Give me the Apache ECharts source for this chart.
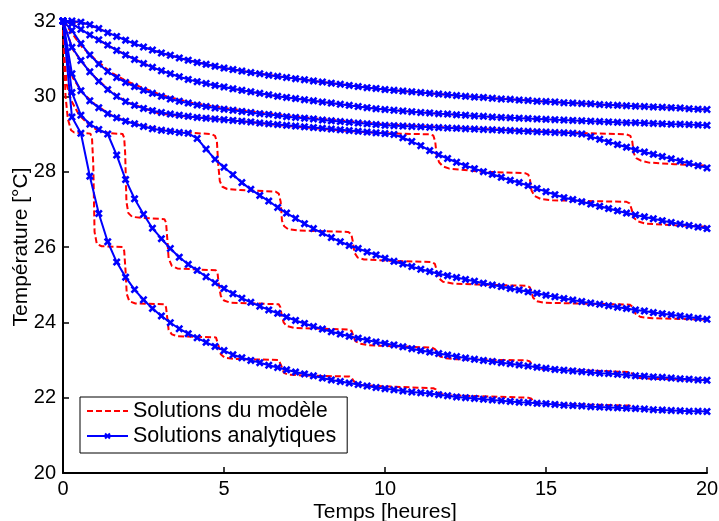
<!DOCTYPE html>
<html>
<head>
<meta charset="utf-8">
<script src="https://cdn.jsdelivr.net/npm/echarts@6/dist/echarts.min.js"></script>
<style>html,body{margin:0;padding:0;background:#fff}#c{width:719px;height:521px}</style>
</head>
<body>
<div id="c"></div>
<script>
// Time grid (hours) of the analytical solutions
var times = [0,0.278,0.556,0.833,1.111,1.389,1.667,1.944,2.222,2.5,2.778,3.056,3.333,3.611,3.889,4.167,4.444,4.722,5,5.278,5.556,5.833,6.111,6.389,6.667,6.944,7.222,7.5,7.778,8.056,8.333,8.611,8.889,9.167,9.444,9.722,10,10.278,10.556,10.833,11.111,11.389,11.667,11.944,12.222,12.5,12.778,13.056,13.333,13.611,13.889,14.167,14.444,14.722,15,15.278,15.556,15.833,16.111,16.389,16.667,16.944,17.222,17.5,17.778,18.056,18.333,18.611,18.889,19.167,19.444,19.722,20];

// Analytical solutions (°C)
var analytic1 = [32,32.0,31.97,31.9,31.8,31.69,31.59,31.49,31.4,31.31,31.23,31.15,31.09,31.02,30.96,30.9,30.85,30.8,30.75,30.71,30.67,30.63,30.6,30.56,30.53,30.5,30.47,30.44,30.41,30.38,30.35,30.32,30.29,30.26,30.23,30.21,30.18,30.16,30.14,30.12,30.1,30.08,30.06,30.04,30.02,30.0,29.98,29.97,29.95,29.93,29.92,29.9,29.89,29.87,29.86,29.85,29.83,29.82,29.81,29.8,29.78,29.77,29.76,29.75,29.74,29.73,29.72,29.71,29.7,29.69,29.67,29.66,29.65];
var analytic2 = [32,31.93,31.78,31.63,31.5,31.36,31.22,31.1,30.98,30.87,30.77,30.68,30.6,30.52,30.45,30.39,30.34,30.29,30.25,30.2,30.16,30.12,30.08,30.04,30.0,29.97,29.94,29.91,29.88,29.85,29.82,29.79,29.76,29.73,29.7,29.67,29.65,29.63,29.61,29.59,29.57,29.56,29.54,29.53,29.51,29.5,29.48,29.47,29.45,29.44,29.43,29.42,29.41,29.4,29.39,29.38,29.37,29.36,29.35,29.34,29.33,29.32,29.31,29.3,29.3,29.29,29.28,29.27,29.26,29.26,29.25,29.24,29.23];
var analytic3 = [32,31.75,31.4,31.1,30.86,30.66,30.5,30.37,30.26,30.16,30.08,30.0,29.93,29.87,29.82,29.77,29.73,29.69,29.66,29.63,29.6,29.57,29.54,29.52,29.49,29.46,29.44,29.42,29.4,29.37,29.35,29.33,29.31,29.29,29.27,29.25,29.23,29.22,29.21,29.2,29.19,29.18,29.17,29.16,29.15,29.14,29.13,29.12,29.11,29.1,29.09,29.08,29.07,29.06,29.05,29.04,29.03,29.02,29.0,28.93,28.86,28.79,28.72,28.65,28.58,28.52,28.46,28.4,28.34,28.28,28.22,28.16,28.1];
var analytic4 = [32,31.3,30.95,30.65,30.4,30.18,30.0,29.86,29.76,29.68,29.62,29.57,29.53,29.5,29.47,29.44,29.42,29.4,29.38,29.36,29.34,29.32,29.29,29.27,29.25,29.23,29.21,29.19,29.17,29.15,29.13,29.11,29.09,29.07,29.05,29.03,29.01,28.99,28.9,28.8,28.69,28.56,28.45,28.35,28.25,28.16,28.08,28.0,27.93,27.85,27.77,27.71,27.63,27.55,27.47,27.39,27.31,27.26,27.2,27.14,27.08,27.02,26.96,26.9,26.85,26.8,26.75,26.7,26.65,26.61,26.57,26.53,26.49];
var analytic5 = [32,30.6,30.15,29.88,29.7,29.54,29.43,29.34,29.27,29.2,29.14,29.1,29.07,29.04,29.02,28.88,28.6,28.33,28.12,27.92,27.71,27.53,27.37,27.22,27.05,26.9,26.76,26.62,26.49,26.37,26.25,26.14,26.04,25.96,25.87,25.79,25.7,25.62,25.55,25.48,25.41,25.35,25.29,25.24,25.19,25.14,25.09,25.04,24.99,24.95,24.9,24.86,24.81,24.77,24.72,24.68,24.63,24.59,24.55,24.51,24.48,24.44,24.4,24.37,24.33,24.3,24.26,24.23,24.2,24.17,24.14,24.11,24.08];
var analytic6 = [32,30.1,29.5,29.26,29.12,29.0,28.44,27.79,27.28,26.87,26.5,26.22,25.96,25.73,25.54,25.38,25.21,25.05,24.9,24.76,24.64,24.53,24.43,24.33,24.24,24.14,24.05,23.97,23.89,23.82,23.75,23.69,23.63,23.58,23.53,23.48,23.44,23.4,23.35,23.3,23.25,23.21,23.17,23.13,23.09,23.05,23.02,22.99,22.96,22.93,22.9,22.87,22.84,22.81,22.78,22.75,22.73,22.71,22.69,22.67,22.65,22.64,22.62,22.6,22.58,22.57,22.55,22.54,22.52,22.5,22.49,22.47,22.46];
var analytic7 = [32,29.45,29.02,27.88,26.89,26.14,25.6,25.2,24.87,24.6,24.37,24.17,23.99,23.83,23.7,23.59,23.47,23.36,23.25,23.14,23.06,22.99,22.93,22.86,22.8,22.74,22.68,22.63,22.58,22.52,22.47,22.43,22.39,22.35,22.31,22.27,22.24,22.21,22.18,22.15,22.13,22.11,22.08,22.05,22.02,22.0,21.98,21.96,21.94,21.92,21.9,21.88,21.87,21.85,21.84,21.82,21.8,21.79,21.78,21.76,21.75,21.74,21.73,21.72,21.71,21.7,21.68,21.67,21.66,21.65,21.64,21.64,21.63];

// Model solutions: [time (h), temperature (°C)]
var model1 = [[0,32],[0.556,31.97],[1.111,31.8],[1.667,31.59],[2.222,31.4],[3.056,31.15],[3.889,30.96],[5,30.75],[6.111,30.6],[7.5,30.44],[8.889,30.29],[10,30.18],[12.222,30.02],[14.444,29.89],[16.667,29.78],[18.333,29.72],[20,29.65]];
var model2 = [[0,32],[0.278,31.93],[0.833,31.63],[1.389,31.36],[1.944,31.1],[2.778,30.77],[3.611,30.52],[4.444,30.34],[5.556,30.16],[6.667,30.0],[7.778,29.88],[8.889,29.76],[10,29.65],[11.667,29.54],[13.333,29.45],[15,29.39],[16.667,29.33],[18.333,29.28],[20,29.23]];
var model3 = [[0,32],[0.3,31.65],[0.6,31.3],[1,30.98],[1.5,30.63],[2,30.39],[3,30.05],[4,29.83],[5,29.69],[6,29.58],[7,29.48],[8,29.4],[9,29.33],[10,29.26],[12,29.17],[14,29.1],[16,29.03],[17.5,28.99],[17.62,28.95],[17.68,28.8],[17.72,28.5],[17.8,28.36],[17.95,28.29],[18.2,28.24],[19,28.2],[20,28.16]];
var model4 = [[0,32],[0.3,31.25],[0.6,30.9],[1,30.5],[1.5,30.12],[2,29.84],[3,29.54],[4,29.45],[5,29.38],[6,29.3],[7,29.21],[8,29.14],[9,29.07],[10,29.02],[11.4,28.99],[11.5,28.96],[11.56,28.8],[11.6,28.45],[11.68,28.25],[11.8,28.14],[12.0,28.08],[13,28.0],[14.35,27.96],[14.45,27.92],[14.5,27.8],[14.55,27.5],[14.65,27.35],[14.85,27.27],[15.2,27.24],[17.5,27.2],[17.6,27.16],[17.66,27.0],[17.72,26.78],[17.85,26.68],[18.1,26.62],[19,26.58],[20,26.54]];
var model5 = [[0,32],[0.15,31.0],[0.3,30.5],[0.6,30.1],[1,29.78],[1.5,29.5],[2,29.33],[2.5,29.22],[3,29.13],[3.5,29.07],[4,29.03],[4.6,29.0],[4.72,28.95],[4.78,28.8],[4.82,28.2],[4.87,27.75],[4.95,27.6],[5.1,27.54],[5.5,27.51],[6.6,27.47],[6.7,27.42],[6.76,27.2],[6.8,26.7],[6.87,26.55],[7.0,26.47],[7.3,26.44],[8.85,26.4],[8.95,26.35],[9.0,26.15],[9.05,25.85],[9.15,25.72],[9.35,25.67],[10,25.64],[11.45,25.6],[11.55,25.55],[11.6,25.4],[11.66,25.18],[11.8,25.08],[12.1,25.03],[13,25.0],[14.4,24.97],[14.5,24.93],[14.55,24.8],[14.6,24.65],[14.72,24.56],[14.95,24.52],[16,24.5],[17.6,24.47],[17.68,24.42],[17.73,24.3],[17.8,24.2],[17.95,24.14],[18.3,24.11],[20,24.07]];
var model6 = [[0,32],[0.05,31.0],[0.12,30.3],[0.25,29.9],[0.5,29.5],[0.8,29.25],[1.1,29.08],[1.5,29.02],[1.85,29.0],[1.9,28.9],[1.93,28.5],[1.97,27.2],[2.03,26.9],[2.15,26.8],[2.5,26.77],[3.15,26.74],[3.2,26.65],[3.24,26.2],[3.28,25.7],[3.38,25.5],[3.55,25.43],[4.0,25.41],[4.75,25.38],[4.8,25.3],[4.84,25.0],[4.9,24.7],[5.0,24.58],[5.2,24.52],[6.0,24.5],[6.7,24.48],[6.75,24.4],[6.79,24.2],[6.85,24.0],[6.95,23.9],[7.2,23.85],[8.9,23.81],[8.97,23.76],[9.02,23.62],[9.08,23.5],[9.2,23.44],[9.5,23.39],[11.45,23.33],[11.55,23.29],[11.62,23.2],[11.7,23.1],[11.85,23.05],[12.2,23.02],[14.4,22.99],[14.5,22.96],[14.56,22.88],[14.65,22.8],[14.85,22.76],[16,22.73],[17.6,22.68],[17.68,22.64],[17.75,22.57],[17.9,22.52],[18.3,22.5],[20,22.47]];
var model7 = [[0,32],[0.03,31.0],[0.08,30.0],[0.15,29.4],[0.25,29.1],[0.35,29.04],[0.85,29.01],[0.9,28.9],[0.94,28.2],[0.98,26.4],[1.05,26.08],[1.2,26.02],[1.85,26.0],[1.9,25.9],[1.94,25.4],[1.98,24.75],[2.06,24.56],[2.25,24.5],[3.15,24.48],[3.2,24.4],[3.24,24.1],[3.28,23.8],[3.38,23.68],[3.55,23.63],[4.75,23.6],[4.8,23.55],[4.84,23.35],[4.9,23.15],[5.02,23.06],[5.3,23.03],[6.7,23.0],[6.75,22.95],[6.8,22.8],[6.86,22.66],[7.0,22.61],[7.5,22.59],[8.9,22.56],[8.97,22.52],[9.02,22.45],[9.1,22.38],[9.3,22.33],[10,22.3],[11.5,22.25],[11.58,22.22],[11.65,22.15],[11.75,22.1],[12,22.06],[14.45,22.0],[14.55,21.97],[14.62,21.9],[14.75,21.86],[15,21.84],[17.6,21.79],[17.7,21.76],[17.78,21.71],[17.95,21.68],[18.5,21.66],[20,21.64]];

var modelName = 'Solutions du modèle';
var analyticName = 'Solutions analytiques';
var xTitle = 'Temps [heures]';
var yTitle = 'Température [°C]';

var FONT = '"Liberation Sans", Arial, Helvetica, sans-serif';
var XMARK = 'path://M0,2.3L2.3,0L5,2.7L7.7,0L10,2.3L7.3,5L10,7.7L7.7,10L5,7.3L2.3,10L0,7.7L2.7,5Z';

var models = [model1, model2, model3, model4, model5, model6, model7];
var analytics = [analytic1, analytic2, analytic3, analytic4, analytic5, analytic6, analytic7];

var series = [];
models.forEach(function (m) {
  series.push({
    name: modelName, type: 'line', data: m, showSymbol: false, symbol: 'none',
    lineStyle: { color: '#ff0000', width: 2, type: [6, 3] },
    itemStyle: { color: '#ff0000' }, z: 2, silent: true, clip: false
  });
});
analytics.forEach(function (a) {
  series.push({
    name: analyticName, type: 'line',
    data: times.map(function (t, i) { return [t, a[i]]; }),
    symbol: XMARK, symbolSize: 8, showAllSymbol: true,
    lineStyle: { color: '#0000ff', width: 2 },
    itemStyle: { color: '#0000ff' }, z: 3, silent: true, clip: false
  });
});

var axisCommon = {
  type: 'value', nameLocation: 'middle', nameMoveOverlap: false,
  nameTextStyle: { fontSize: 21, color: '#000', fontFamily: FONT },
  axisLine: { show: true, onZero: false, lineStyle: { color: '#000', width: 2 } },
  axisTick: { show: true, inside: true, length: 6, lineStyle: { color: '#000', width: 1.5 } },
  axisLabel: { fontSize: 20, color: '#000', fontFamily: FONT },
  splitLine: { show: false }
};

var chart = echarts.init(document.getElementById('c'), null, { renderer: 'canvas' });
chart.setOption({
  animation: false,
  backgroundColor: '#fff',
  grid: { left: 63, right: 12, top: 21, bottom: 48, containLabel: false, outerBoundsMode: 'none' },
  xAxis: Object.assign({}, axisCommon, {
    min: 0, max: 20, interval: 5, name: xTitle, nameGap: 29,
    axisLabel: Object.assign({}, axisCommon.axisLabel, { margin: 6 })
  }),
  yAxis: Object.assign({}, axisCommon, {
    min: 20, max: 32, interval: 2, name: yTitle, nameGap: 31,
    axisLabel: Object.assign({}, axisCommon.axisLabel, { margin: 7 })
  }),
  legend: {
    left: 80, top: 397, orient: 'vertical',
    backgroundColor: '#fff', borderColor: '#000', borderWidth: 1, borderRadius: 0,
    padding: [3, 11, 6, 6], itemGap: 3, itemWidth: 41, itemHeight: 8,
    textStyle: { fontSize: 21.5, color: '#000', fontFamily: FONT },
    data: [
      { name: modelName, itemStyle: { opacity: 0 } },
      { name: analyticName }
    ]
  },
  series: series
});
</script>
</body>
</html>
